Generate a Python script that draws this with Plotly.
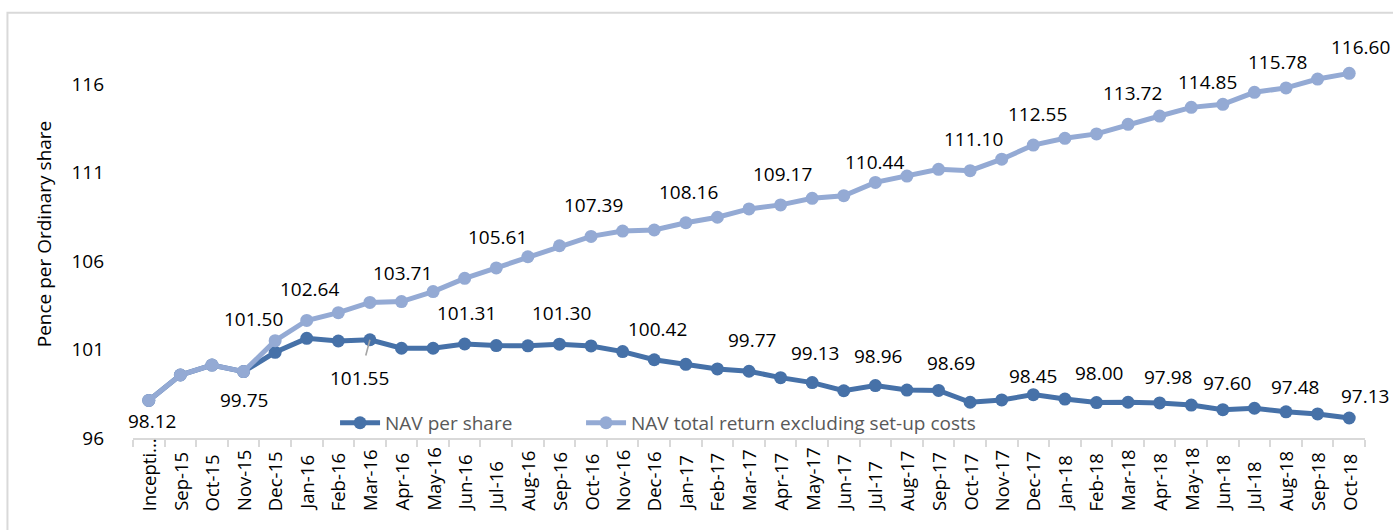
import plotly.graph_objects as go

categories = ["Incepti...", "Sep-15", "Oct-15", "Nov-15", "Dec-15",
              "Jan-16", "Feb-16", "Mar-16", "Apr-16", "May-16", "Jun-16",
              "Jul-16", "Aug-16", "Sep-16", "Oct-16", "Nov-16", "Dec-16",
              "Jan-17", "Feb-17", "Mar-17", "Apr-17", "May-17", "Jun-17",
              "Jul-17", "Aug-17", "Sep-17", "Oct-17", "Nov-17", "Dec-17",
              "Jan-18", "Feb-18", "Mar-18", "Apr-18", "May-18", "Jun-18",
              "Jul-18", "Aug-18", "Sep-18", "Oct-18"]

nav_per_share = [98.12, 99.56, 100.12, 99.75, 100.84,
                 101.63, 101.48, 101.55, 101.07, 101.07, 101.31,
                 101.22, 101.21, 101.30, 101.20, 100.88, 100.42,
                 100.16, 99.90, 99.77, 99.41, 99.13, 98.67,
                 98.96, 98.71, 98.69, 98.02, 98.15, 98.45,
                 98.20, 98.00, 98.02, 97.98, 97.86, 97.60,
                 97.68, 97.48, 97.36, 97.13]

nav_total_return = [98.12, 99.56, 100.12, 99.75, 101.50,
                    102.64, 103.08, 103.66, 103.71, 104.27, 105.02,
                    105.61, 106.24, 106.86, 107.39, 107.69, 107.75,
                    108.16, 108.47, 108.94, 109.17, 109.54, 109.69,
                    110.44, 110.80, 111.18, 111.10, 111.75, 112.55,
                    112.93, 113.18, 113.72, 114.19, 114.68, 114.85,
                    115.53, 115.78, 116.28, 116.60]

y_ticks = [96, 101, 106, 111, 116]

# which points carry a data label
nav_label_idx = [3, 10, 13, 16, 19, 21, 23, 25, 28, 30, 32, 34, 36, 38]
tr_label_idx = [0, 4, 5, 8, 11, 14, 17, 20, 23, 26, 28, 31, 34, 36, 38]
leader_idx = 7  # NAV per share label drawn with a leader line

# label offsets in pixels (style, not data)
nav_label_shift = {3: (0, -28), 10: (2, 31), 13: (2, 31), 16: (3, 31), 19: (3, 31),
                   21: (3, 30), 23: (3, 30), 25: (12, 27), 28: (0, 19), 30: (3, 30),
                   32: (8, 26), 34: (4, 27), 36: (9, 25), 38: (16, 22)}
tr_label_shift = {0: (3, -21), 4: (-22, 22), 5: (3, 31), 8: (1, 29), 11: (1, 31),
                  14: (2, 31), 17: (3, 31), 20: (2, 31), 23: (-1, 20), 26: (3, 32),
                  28: (4, 31), 31: (4, 31), 34: (-15, 22), 36: (-9, 26), 38: (11, 26)}

DARK = "#4671A8"
LIGHT = "#94AAD4"
FONT = "Open Sans"

fig = go.Figure()
fig.add_trace(go.Scatter(x=categories, y=nav_per_share, mode="lines+markers",
                         name="NAV per share", legendwidth=191,
                         line=dict(color=DARK, width=5),
                         marker=dict(color=DARK, size=13)))
fig.add_trace(go.Scatter(x=categories, y=nav_total_return, mode="lines+markers",
                         name="NAV total return excluding set-up costs", legendwidth=390,
                         line=dict(color=LIGHT, width=5),
                         marker=dict(color=LIGHT, size=13)))

annotations = []
for i in nav_label_idx:
    dx, dy = nav_label_shift[i]
    annotations.append(dict(x=categories[i], y=nav_per_share[i], text=f"{nav_per_share[i]:.2f}",
                            showarrow=False, xshift=dx, yshift=dy,
                            font=dict(family=FONT, size=19, color="#000000")))
for i in tr_label_idx:
    dx, dy = tr_label_shift[i]
    annotations.append(dict(x=categories[i], y=nav_total_return[i], text=f"{nav_total_return[i]:.2f}",
                            showarrow=False, xshift=dx, yshift=dy,
                            font=dict(family=FONT, size=19, color="#000000")))
annotations.append(dict(x=categories[leader_idx], y=nav_per_share[leader_idx],
                        text=f"{nav_per_share[leader_idx]:.2f}",
                        showarrow=True, arrowhead=0, ax=-10, ay=38,
                        arrowcolor="#A5A5A5", arrowwidth=1.6, standoff=0, startstandoff=8,
                        font=dict(family=FONT, size=19, color="#000000")))
# category labels, rotated and aligned at their start (like the source chart)
for c in categories:
    annotations.append(dict(x=c, xref="x", y=-0.1838, yref="paper", text=c,
                            textangle=-90, showarrow=False, xanchor="center",
                            yanchor="bottom",
                            font=dict(family=FONT, size=18.5, color="#000000")))

fig.update_layout(
    width=1393, height=530,
    margin=dict(l=133, r=28, t=30, b=92),
    paper_bgcolor="white", plot_bgcolor="white",
    font=dict(family=FONT, size=19, color="#000000"),
    showlegend=True,
    legend=dict(orientation="h", x=0.164, y=0.037, xanchor="left", yanchor="middle",
                bgcolor="rgba(0,0,0,0)", font=dict(family=FONT, size=19, color="#595959"),
                itemwidth=40, tracegroupgap=0),
    annotations=annotations,
    xaxis=dict(type="category", range=[-0.5, 38.5], tickson="boundaries",
               ticks="outside", ticklen=7, tickcolor="#D9D9D9", tickwidth=1.5,
               showline=True, linecolor="#D9D9D9", linewidth=1.5, showgrid=False,
               showticklabels=False, automargin=False),
    yaxis=dict(range=[96, 119.05], tickvals=y_ticks, showgrid=False, showline=False,
               zeroline=False, ticks="", ticklabelstandoff=28, automargin=False,
               tickfont=dict(family=FONT, size=19, color="#000000"),
               title=dict(text="Pence per Ordinary share", standoff=14,
                          font=dict(family=FONT, size=19, color="#000000"))),
    shapes=[dict(type="rect", xref="paper", yref="paper",
                 x0=-0.1019, x1=1.05, y0=-0.4, y1=1.0424,
                 line=dict(color="#D9D9D9", width=2), fillcolor="rgba(0,0,0,0)",
                 layer="below")],
)

fig.write_html("out.html", post_script="document.body.style.margin='0px';",
               config={"displayModeBar": False})
